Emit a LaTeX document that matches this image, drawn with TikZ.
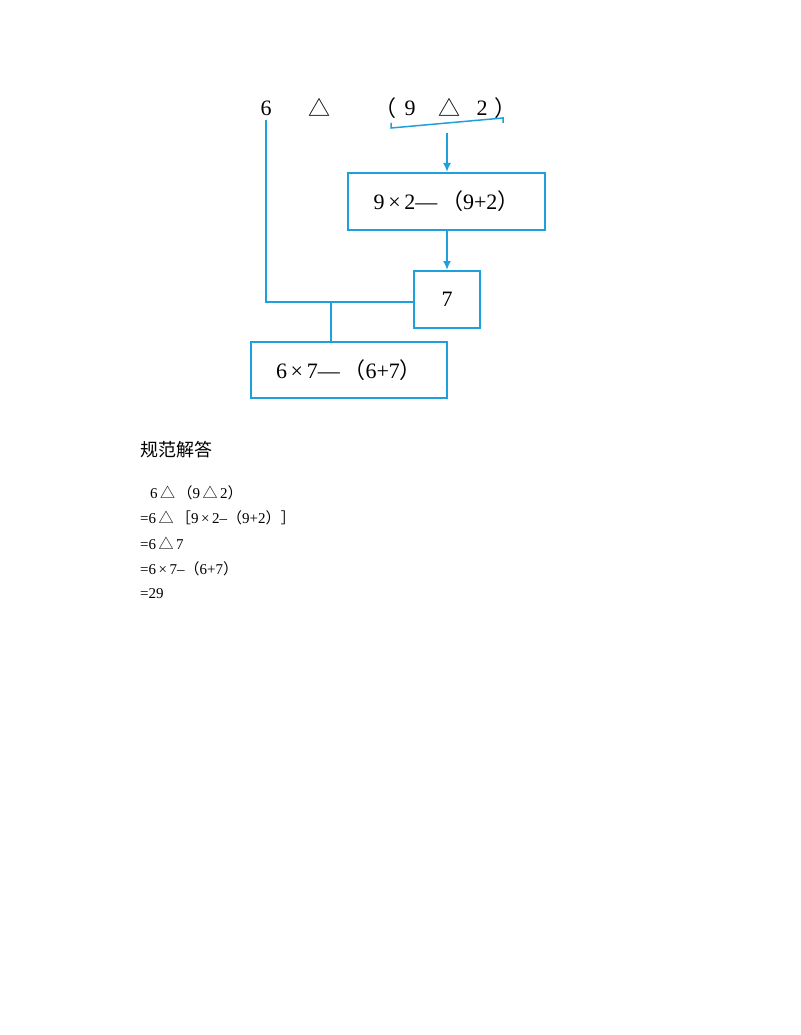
\documentclass[tikz,border=0pt]{standalone}
\usepackage{fontspec}
\usetikzlibrary{arrows.meta}
\setmainfont{Liberation Serif}
\newfontfamily\cjk{Noto Sans CJK SC}
\begin{document}
\begin{tikzpicture}[x=1pt,y=-1pt]
\definecolor{blu}{RGB}{30,160,220}
\tikzset{bx/.style={draw=blu,line width=2pt,inner sep=0pt,font=\fontsize{22}{24}\selectfont},
 ln/.style={draw=blu,line width=2pt},
 ar/.style={ln,-{Latex[length=9pt,width=8pt]}},
 big/.style={font=\fontsize{22}{24}\selectfont,inner sep=0pt},
 sm/.style={font=\fontsize{15}{17}\selectfont,inner sep=0pt,anchor=west}}
\useasboundingbox (0,0) rectangle (800,1035);
\node[big] (six) at (266,108) {6};
\node[big] (t1) at (319,107) {\cjk △};
\node[big] (lp) at (385,108) {\cjk （};
\node[big] (nine) at (410,108) {9};
\node[big] (t2) at (449,107) {\cjk △};
\node[big] (two) at (482,108) {2};
\node[big] (rp) at (505,108) {\cjk ）};
\coordinate (bl) at (391,123);
\coordinate (br) at (503,123);
\coordinate (bm) at (447,133);
\draw[ln,line width=1.5pt] (bl) -- ++(0,5) -- ([yshift=5pt]br) -- (br);
\node[bx,minimum width=197pt,minimum height=57pt] (b1) at (446.5,201.5) {9\,×\,2—\,{\cjk （}9+2{\cjk ）}};
\node[bx,minimum width=66pt,minimum height=57pt] (b2) at (447,299.5) {7};
\node[bx,minimum width=196pt,minimum height=56pt] (b3) at (349,370) {6\,×\,7—\,{\cjk （}6+7{\cjk ）}};
\draw[ar] (bm) -- (b1.north -| bm);
\draw[ar] (b1.south -| bm) -- (b2.north);
\coordinate (c1) at (266,302);
\coordinate (c2) at (331,302);
\draw[ln] ([yshift=-4pt]six.south) -- (c1) -- (b2.west |- c1);
\draw[ln] (c2) -- (b3.north -| c2);
\node[anchor=west,inner sep=0pt,font=\cjk\fontsize{18}{20}\selectfont] (h) at (140,450) {规范解答};
\node[sm] (l1) at (150,493) {6\,{\cjk △}\,{\cjk （}9\,{\cjk △}\,2{\cjk ）}};
\node[sm] (l2) at (140,518) {=6\,{\cjk △}\,{\cjk ［}9\,×\,2–{\cjk （}9+2{\cjk ）］}};
\node[sm] (l3) at (140,543) {=6\,{\cjk △}\,7};
\node[sm] (l4) at (140,569) {=6\,×\,7–{\cjk （}6+7{\cjk ）}};
\node[sm] (l5) at (140,594) {=29};
\end{tikzpicture}
\end{document}
